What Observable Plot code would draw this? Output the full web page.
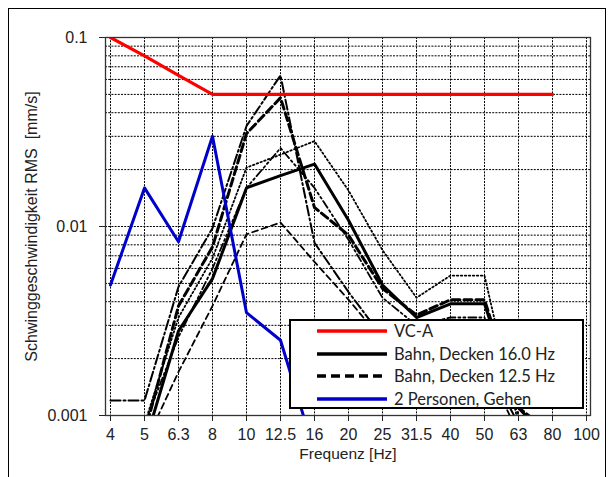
<!DOCTYPE html>
<html><head><meta charset="utf-8">
<script src="https://cdn.jsdelivr.net/npm/d3@7"></script>
<script src="https://cdn.jsdelivr.net/npm/@observablehq/plot@0.6"></script>
<style>
body{margin:0;background:#fff;width:612px;height:477px;overflow:hidden;position:relative;font-family:"Liberation Sans",Arial,sans-serif}
#chart{position:absolute;left:0;top:0}
#outer{position:absolute;left:8px;top:8px;width:598px;height:520px;border:1.5px solid #000;box-sizing:border-box;pointer-events:none}
#legend{position:absolute;left:289px;top:319px;width:295px;height:90px;border:2px solid #000;background:#fff;box-sizing:border-box;font-family:Lato,"Open Sans",sans-serif;font-size:16.5px;color:#222}
.row{position:absolute;left:0;height:20px;display:flex;align-items:center;white-space:nowrap}
.row svg{margin-left:26px;margin-right:7px}
</style></head><body>
<div id="chart"></div>
<div id="outer"></div>
<div id="legend"></div>
<script>
// ---- data ----
const freqs = ["4","5","6.3","8","10","12.5","16","20","25","31.5","40","50","63","80","100"];
const yTicks = [0.001, 0.01, 0.1];
const gridY = [0.002,0.003,0.004,0.005,0.006,0.007,0.008,0.009,0.01,0.02,0.03,0.04,0.05,0.06,0.07,0.08,0.09];
const xLabel = "Frequenz [Hz]";
const yLabel = "Schwinggeschwindigkeit RMS\u00a0\u00a0[mm/s]";

const vcA      = [0.1,0.08,0.063,0.05,0.05,0.05,0.05,0.05,0.05,0.05,0.05,0.05,0.05,0.05,null];
const bahn16   = [null,0.0007,0.0028,0.0053,0.016,0.0186,0.0214,0.0108,0.0049,0.0033,0.0039,0.0039,0.0011,0.0007,null];
const bahn125  = [null,0.0008,0.0038,0.0078,0.031,0.048,0.0126,0.009,0.0047,0.0034,0.0041,0.0041,0.0011,0.0008,null];
const gehen    = [0.0049,0.016,0.0083,0.03,0.0035,0.0025,0.00064,null,null,null,null,null,null,null,null];
// unlabelled further measurements
const extraDotted   = [null,0.0009,0.0033,0.0068,0.0205,0.024,0.0283,0.0155,0.0075,0.0042,0.0055,0.0055,0.0009,0.0007,null];
const extraDashDot  = [0.0012,0.0012,0.0048,0.0098,0.034,0.063,0.0082,0.0045,0.0026,0.0018,0.002,0.002,0.0009,null,null];
const extraDash     = [null,0.0007,0.0017,0.0038,0.0091,0.0105,0.0065,0.0041,0.0025,0.0018,0.0019,0.0019,0.0008,null,null];
const extraDashDot2 = [null,0.0009,0.0026,0.006,0.016,0.026,0.016,0.0085,0.0042,0.003,0.0033,0.0033,0.001,0.0008,null];

const series = [
  {name:"x1", values:extraDash,     stroke:"#000", width:1.8, dash:"6,4"},
  {name:"x2", values:extraDashDot2, stroke:"#000", width:1.8, dash:"8,3,2,3,2,3"},
  {name:"x3", values:extraDotted,   stroke:"#000", width:1.8, dash:"1.5,2.5"},
  {name:"x4", values:extraDashDot,  stroke:"#000", width:2, dash:"10,3,2,3"},
  {name:"Bahn, Decken 12.5 Hz", values:bahn125, stroke:"#000", width:3, dash:"8,4", legend:true},
  {name:"Bahn, Decken 16.0 Hz", values:bahn16, stroke:"#000", width:3, dash:null, legend:true},
  {name:"2 Personen, Gehen", values:gehen, stroke:"#0000cc", width:3, dash:null, legend:true},
  {name:"VC-A", values:vcA, stroke:"#ff0000", width:3.2, dash:null, legend:true}
];

const rowsOf = s => s.values.map((v,i)=>({series:s.name, f:freqs[i], v})).filter(d=>d.v!=null);

const chart = Plot.plot({
  width:612, height:477,
  marginLeft:105, marginRight:22, marginTop:37, marginBottom:62,
  style:{fontFamily:"'Liberation Sans', Arial, sans-serif", fontSize:"16px", color:"#222", background:"transparent", overflow:"visible"},
  x:{type:"point", domain:freqs, padding:0},
  y:{type:"log", domain:[0.001,0.1]},
  marks:[
    Plot.ruleX(freqs, {x:d=>d, stroke:"#000", strokeWidth:1, strokeDasharray:"2,1.2", strokeOpacity:1}),
    Plot.ruleY(gridY, {y:d=>d, stroke:"#000", strokeWidth:1, strokeDasharray:"2,1.2", strokeOpacity:1}),
    ...series.map(s => Plot.line(rowsOf(s), {x:"f", y:"v", stroke:s.stroke, strokeWidth:s.width, strokeDasharray:s.dash, clip:true})),
    Plot.frame({stroke:"#333", strokeWidth:1.3}),
    Plot.axisX({tickSize:6, tickPadding:7, label:null, fontSize:16}),
    Plot.axisY({ticks:yTicks, tickFormat:d=>String(d), tickSize:6, tickPadding:12, label:null, fontSize:16}),
    Plot.text([xLabel], {frameAnchor:"bottom", dy:43, text:d=>d, fontSize:15.5}),
    Plot.text([yLabel], {frameAnchor:"left", dx:-74, rotate:-90, textAnchor:"middle", text:d=>d, fontSize:16})
  ]
});
document.getElementById("chart").appendChild(chart);

// legend
const legendOrder = ["VC-A","Bahn, Decken 16.0 Hz","Bahn, Decken 12.5 Hz","2 Personen, Gehen"];
const legendRowTops = [0, 23, 45, 68];
const leg = document.getElementById("legend");
legendOrder.forEach((name, i) => {
  const s = series.find(d=>d.name===name);
  const row = document.createElement("div");
  row.className = "row";
  row.style.top = legendRowTops[i] + "px";
  row.innerHTML = `<svg width="70" height="8"><line x1="0" x2="70" y1="4" y2="4" stroke="${s.stroke}" stroke-width="3.5" ${s.dash ? `stroke-dasharray="9,5"` : ""}/></svg><span>${name}</span>`;
  leg.appendChild(row);
});
</script>
</body></html>
